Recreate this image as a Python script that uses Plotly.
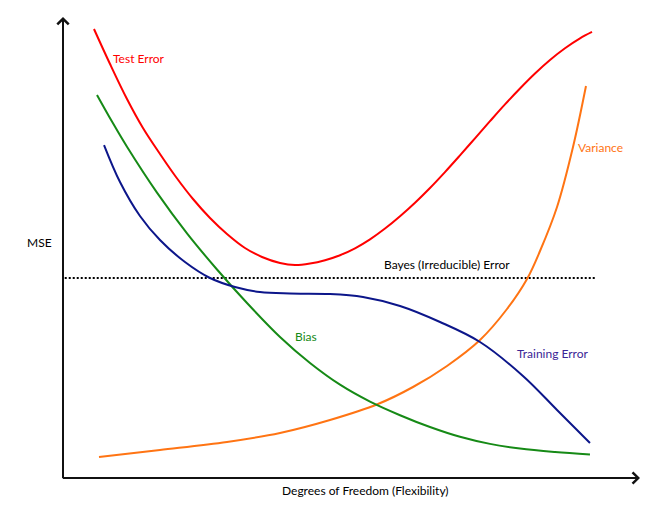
import plotly.graph_objects as go

# Data (arbitrary units: flexibility 0-100, MSE 0-100)
test_x = [5.37, 8.15, 11.09, 13.86, 16.81, 19.58, 22.53, 25.48, 28.42, 31.54, 34.49, 37.61, 40.21,
          42.81, 45.41, 48.01, 50.61, 53.21, 55.81, 58.41, 61.01, 63.60, 66.20, 68.80, 71.40,
          74.00, 76.60, 79.20, 81.80, 84.40, 87.00, 89.60, 91.68]
test_y = [97.40, 89.80, 82.21, 75.92, 70.28, 65.29, 60.52, 56.40, 52.93, 49.89, 47.94, 46.64, 46.20,
          46.53, 47.25, 48.33, 49.83, 51.78, 54.12, 56.79, 59.72, 62.91, 66.36, 69.98, 73.69,
          77.40, 81.04, 84.49, 87.74, 90.67, 93.21, 95.36, 96.75]

bias_x = [5.89, 8.49, 11.09, 16.29, 21.49, 26.69, 31.89, 37.61, 42.81, 48.01, 53.21, 58.41, 63.60,
          68.80, 74.00, 79.20, 85.27, 91.33]
bias_y = [83.08, 77.31, 71.84, 61.89, 53.06, 45.23, 37.96, 30.59, 24.95, 20.24, 16.57, 13.62, 11.06,
          8.94, 7.40, 6.38, 5.64, 5.10]

train_x = [7.11, 9.88, 13.34, 16.81, 21.14, 25.48, 29.81, 34.14, 39.34, 46.27, 51.99, 58.41, 65.34, 72.27, 79.72, 85.62, 91.33]
train_y = [72.23, 64.21, 56.83, 51.63, 46.85, 43.38, 41.43, 40.35, 40.02, 39.91, 39.26, 37.31, 33.84, 29.50, 22.13, 14.75, 7.59]

var_x = [6.24, 16.81, 28.42, 37.61, 46.27, 54.59, 60.66, 66.55, 72.27, 76.95, 80.42, 82.67, 85.62, 88.39, 90.64]
var_y = [4.56, 6.07, 7.81, 9.76, 12.58, 16.05, 19.74, 24.30, 29.93, 36.66, 43.17, 49.24, 58.79, 71.80, 85.03]

bayes_x = [0.3, 92.5]
bayes_level = 43.4

FONT = "Lato"

fig = go.Figure()
fig.add_trace(go.Scatter(x=bayes_x, y=[bayes_level] * len(bayes_x), mode="lines",
                         line=dict(color="black", width=2, dash="2px,2px")))
fig.add_trace(go.Scatter(x=var_x, y=var_y, mode="lines",
                         line=dict(color="#ff7413", width=2, shape="spline", smoothing=1)))
fig.add_trace(go.Scatter(x=bias_x, y=bias_y, mode="lines",
                         line=dict(color="#168a16", width=2, shape="spline", smoothing=1)))
fig.add_trace(go.Scatter(x=train_x, y=train_y, mode="lines",
                         line=dict(color="#0c168a", width=2, shape="spline", smoothing=1)))
fig.add_trace(go.Scatter(x=test_x, y=test_y, mode="lines",
                         line=dict(color="#ff0000", width=2, shape="spline", smoothing=1)))

labels = [
    ("Test Error", 13.17, 91.1, "#ff0000"),
    ("Variance", 93.24, 71.8, "#ff7413"),
    ("Bayes (Irreducible) Error", 66.55, 46.4, "#000000"),
    ("Bias", 42.11, 30.6, "#168a16"),
    ("Training Error", 84.92, 26.9, "#3a2596"),
]
for txt, x, y, c in labels:
    fig.add_annotation(x=x, y=y, text=txt, showarrow=False, xref="x", yref="y",
                       xanchor="center", yanchor="middle",
                       font=dict(family=FONT, size=12, color=c))

# axes with arrows
fig.add_annotation(x=0, y=100, ax=0, ay=-0.3, xref="x", yref="y", axref="x", ayref="y",
                   showarrow=True, arrowhead=4, arrowsize=1.1, arrowwidth=2, arrowcolor="#111", text="")
fig.add_annotation(x=100, y=0, ax=-0.3, ay=0, xref="x", yref="y", axref="x", ayref="y",
                   showarrow=True, arrowhead=4, arrowsize=1.1, arrowwidth=2, arrowcolor="#111", text="")

fig.add_annotation(x=-0.040, y=0.51, xref="paper", yref="paper", text="MSE", showarrow=False,
                   xanchor="center", yanchor="middle",
                   font=dict(family=FONT, size=12, color="black"))
fig.add_annotation(x=0.525, y=-0.028, xref="paper", yref="paper", text="Degrees of Freedom (Flexibility)",
                   showarrow=False, xanchor="center", yanchor="middle",
                   font=dict(family=FONT, size=12, color="black"))

fig.update_xaxes(range=[0, 100], visible=False, fixedrange=True)
fig.update_yaxes(range=[0, 100], visible=False, fixedrange=True)
fig.update_layout(width=652, height=509, margin=dict(l=55, r=20, t=9, b=39),
                  plot_bgcolor="white", paper_bgcolor="white", showlegend=False)

fig.write_html("out.html")
